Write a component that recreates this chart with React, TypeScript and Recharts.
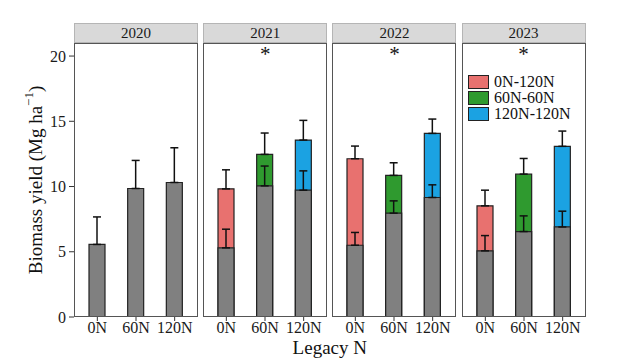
import React from 'react';
import { BarChart, Bar, XAxis, YAxis, ErrorBar, Cell } from 'recharts';

// facet years and legacy N rates
const years = ['2020', '2021', '2022', '2023'];
const legacyN = ['0N', '60N', '120N'];

// legacy-N-only yield (grey part) and its SE
const legacyYield = [
  [5.56, 9.85, 10.31],
  [5.3, 10.05, 9.72],
  [5.5, 7.96, 9.16],
  [5.07, 6.55, 6.9],
];
const legacySE = [
  [2.11, 2.15, 2.66],
  [1.43, 1.52, 1.48],
  [0.98, 0.94, 0.97],
  [1.17, 1.2, 1.21],
];

// yield with current-year N (coloured part top) and its SE
const totalYield = [
  [null, null, null],
  [9.82, 12.46, 13.56],
  [12.13, 10.85, 14.07],
  [8.52, 10.95, 13.08],
];
const totalSE = [
  [null, null, null],
  [1.46, 1.64, 1.51],
  [0.97, 0.97, 1.1],
  [1.2, 1.2, 1.17],
];

const signif = ['', '*', '*', '*'];
const treatments = ['0N-120N', '60N-60N', '120N-120N'];
const treatmentColors = ['#E8716F', '#2F9A2F', '#1BA2E2'];
const yTicks = [0, 5, 10, 15, 20];

const FONT = 'Liberation Serif';
const PANEL_W = 124;
const PANEL_STEP = 129.2;
const FIRST_LEFT = 74;
const Y_AXIS_W = 74;
const PANEL_TOP = 43;
const PLOT_H = 274;
const X_AXIS_H = 30;
const STRIP_H = 20.5;
const BAR_W = 16;

function YTitle(props: any) {
  const vb = props.viewBox || {};
  const cx = 35;
  const cy = vb.y + vb.height / 2;
  return (
    <text
      x={cx}
      y={cy}
      transform={`rotate(-90 ${cx} ${cy})`}
      textAnchor="middle"
      dominantBaseline="central"
      fontFamily={FONT}
      fontSize={19}
      fill="#111"
    >
      Biomass yield (Mg ha
      <tspan fontSize={13} dy={-7}>−1</tspan>
      <tspan dy={7}>)</tspan>
    </text>
  );
}

function Panel({ idx }: { idx: number }) {
  const first = idx === 0;
  const data = legacyN.map((n, i) => ({
    legacy: n,
    base: legacyYield[idx][i],
    baseErr: [0, legacySE[idx][i]],
    total: totalYield[idx][i],
    totalErr: totalSE[idx][i] == null ? null : [0, totalSE[idx][i]],
  }));
  const left = FIRST_LEFT + idx * PANEL_STEP;
  const chartLeft = first ? left - Y_AXIS_W : left;
  const chartW = first ? PANEL_W + Y_AXIS_W : PANEL_W;
  const tick = { fontFamily: FONT, fontSize: 16, fill: '#1a1a1a' };

  return (
    <>
      <div
        style={{
          position: 'absolute',
          left,
          top: PANEL_TOP - STRIP_H,
          width: PANEL_W,
          height: STRIP_H,
          boxSizing: 'border-box',
          background: '#d9d9d9',
          border: '1px solid #b5b5b5',
          fontFamily: FONT,
          fontSize: 15,
          color: '#1a1a1a',
          textAlign: 'center',
          lineHeight: `${STRIP_H - 2}px`,
        }}
      >
        {years[idx]}
      </div>
      <div style={{ position: 'absolute', left: chartLeft, top: PANEL_TOP }}>
        <BarChart
          width={chartW}
          height={PLOT_H + X_AXIS_H}
          data={data}
          barGap={-BAR_W}
          margin={{ top: 0, right: 0, bottom: 0, left: 0 }}
        >
          <XAxis
            dataKey="legacy"
            padding={{ left: 4, right: 4 }}
            axisLine={false}
            tickLine={{ stroke: '#333' }}
            tickSize={4}
            tickMargin={1}
            tick={tick}
            height={X_AXIS_H}
            interval={0}
          />
          <YAxis
            domain={[0, 21]}
            ticks={yTicks}
            allowDataOverflow
            hide={!first}
            width={Y_AXIS_W}
            axisLine={false}
            tickLine={{ stroke: '#333' }}
            tickSize={5}
            tickMargin={3}
            tick={tick}
            label={first ? <YTitle /> : undefined}
          />
          <Bar
            dataKey="total"
            barSize={BAR_W}
            stroke="#222"
            strokeWidth={1.2}
            isAnimationActive={false}
          >
            {data.map((d, i) => (
              <Cell key={d.legacy} fill={treatmentColors[i]} />
            ))}
            <ErrorBar dataKey="totalErr" width={4} stroke="#111" strokeWidth={1.5} />
          </Bar>
          <Bar
            dataKey="base"
            barSize={BAR_W}
            fill="#808080"
            stroke="#222"
            strokeWidth={1.2}
            isAnimationActive={false}
          >
            <ErrorBar dataKey="baseErr" width={4} stroke="#111" strokeWidth={1.5} />
          </Bar>
        </BarChart>
      </div>
      <div
        style={{
          position: 'absolute',
          left,
          top: PANEL_TOP,
          width: PANEL_W,
          height: PLOT_H,
          boxSizing: 'border-box',
          border: '1.2px solid #555',
          pointerEvents: 'none',
        }}
      />
      {signif[idx] && (
        <div
          style={{
            position: 'absolute',
            left: left + PANEL_W / 2 - 10,
            top: PANEL_TOP + 1,
            width: 20,
            textAlign: 'center',
            fontFamily: FONT,
            fontSize: 21,
            lineHeight: '21px',
            color: '#111',
          }}
        >
          {signif[idx]}
        </div>
      )}
    </>
  );
}

function TreatmentLegend() {
  const left = FIRST_LEFT + 3 * PANEL_STEP + 6.5;
  return (
    <div style={{ position: 'absolute', left, top: 74.5 }}>
      {treatments.map((t, i) => (
        <div key={t} style={{ display: 'flex', alignItems: 'center', height: 15.8 }}>
          <div
            style={{
              width: 21,
              height: 14,
              boxSizing: 'border-box',
              background: treatmentColors[i],
              border: '1.5px solid #222',
              marginRight: 5,
            }}
          />
          <span style={{ fontFamily: FONT, fontSize: 16, color: '#111', lineHeight: '16px' }}>{t}</span>
        </div>
      ))}
    </div>
  );
}

export default function App() {
  return (
    <div
      style={{
        position: 'absolute',
        left: 0,
        top: 0,
        width: 624,
        height: 364,
        background: '#fff',
        overflow: 'hidden',
      }}
    >
      {years.map((y, i) => (
        <Panel key={y} idx={i} />
      ))}
      <TreatmentLegend />
      <div
        style={{
          position: 'absolute',
          left: FIRST_LEFT,
          width: 3 * PANEL_STEP + PANEL_W,
          top: 337,
          textAlign: 'center',
          fontFamily: FONT,
          fontSize: 19,
          lineHeight: '22px',
          color: '#111',
        }}
      >
        Legacy N
      </div>
    </div>
  );
}
